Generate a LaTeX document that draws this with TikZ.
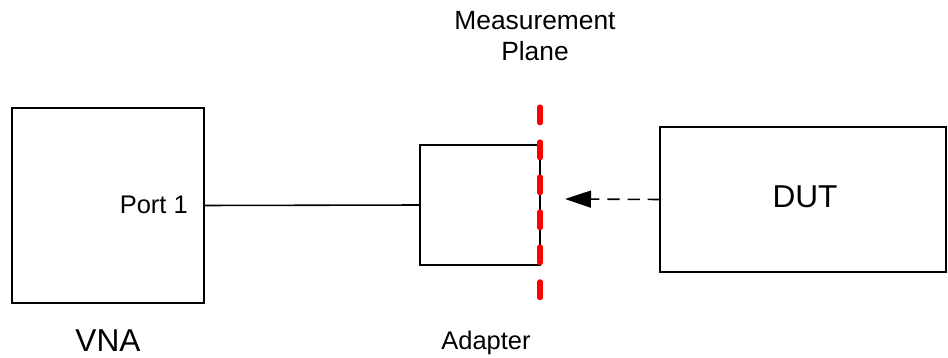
\documentclass[tikz,border=0pt]{standalone}
\usepackage{fontspec}
\setmainfont{Liberation Sans}
\usetikzlibrary{arrows.meta}

\tikzset{
    box/.style={draw, line width=0.9pt, outer sep=0pt, inner sep=0pt},
    smalltext/.style={font=\fontsize{14.5}{18}\selectfont},
    planetext/.style={font=\fontsize{15}{18}\selectfont},
    bigtext/.style={font=\fontsize{18}{22}\selectfont},
    plane/.style={draw=red, line width=2.9pt, line cap=round, dash pattern=on 9pt off 10.9pt},
}

\begin{document}
\begin{tikzpicture}[x=0.02cm, y=-0.02cm]
    \useasboundingbox (0,0) rectangle (948,358);

    % boxes
    \node[box, minimum width=3.84cm, minimum height=3.9cm] (vna) at (108,205.5) {};
    \node[box, minimum width=2.4cm, minimum height=2.4cm] (adapter) at (480,205) {};
    \node[box, minimum width=5.72cm, minimum height=2.9cm] (dut) at (803,199.5) {};

    % labels
    \node[smalltext, anchor=east] (port) at (194,205) {Port 1};
    \node[bigtext] (vnalabel) at (108,341) {VNA};
    \node[smalltext] (adapterlabel) at (486,343) {Adapter};
    \node[bigtext] (dutlabel) at (805,197) {DUT};
    \node[planetext, align=center] (planelabel) at (535,36) {Measurement\\Plane};

    % connections
    \draw[line width=0.9pt] (vna.east) -- (adapter.west);
    \coordinate (tip) at (565,199);
    \draw[line width=0.9pt, dash pattern=on 7pt off 4.5pt, -{Triangle[length=0.52cm, width=0.34cm]}] (dut.west) -- (tip);

    % measurement plane
    \coordinate (planetop) at (540,107);
    \coordinate (planebot) at (540,302);
    \draw[plane] (planetop) -- (planebot);
\end{tikzpicture}
\end{document}
